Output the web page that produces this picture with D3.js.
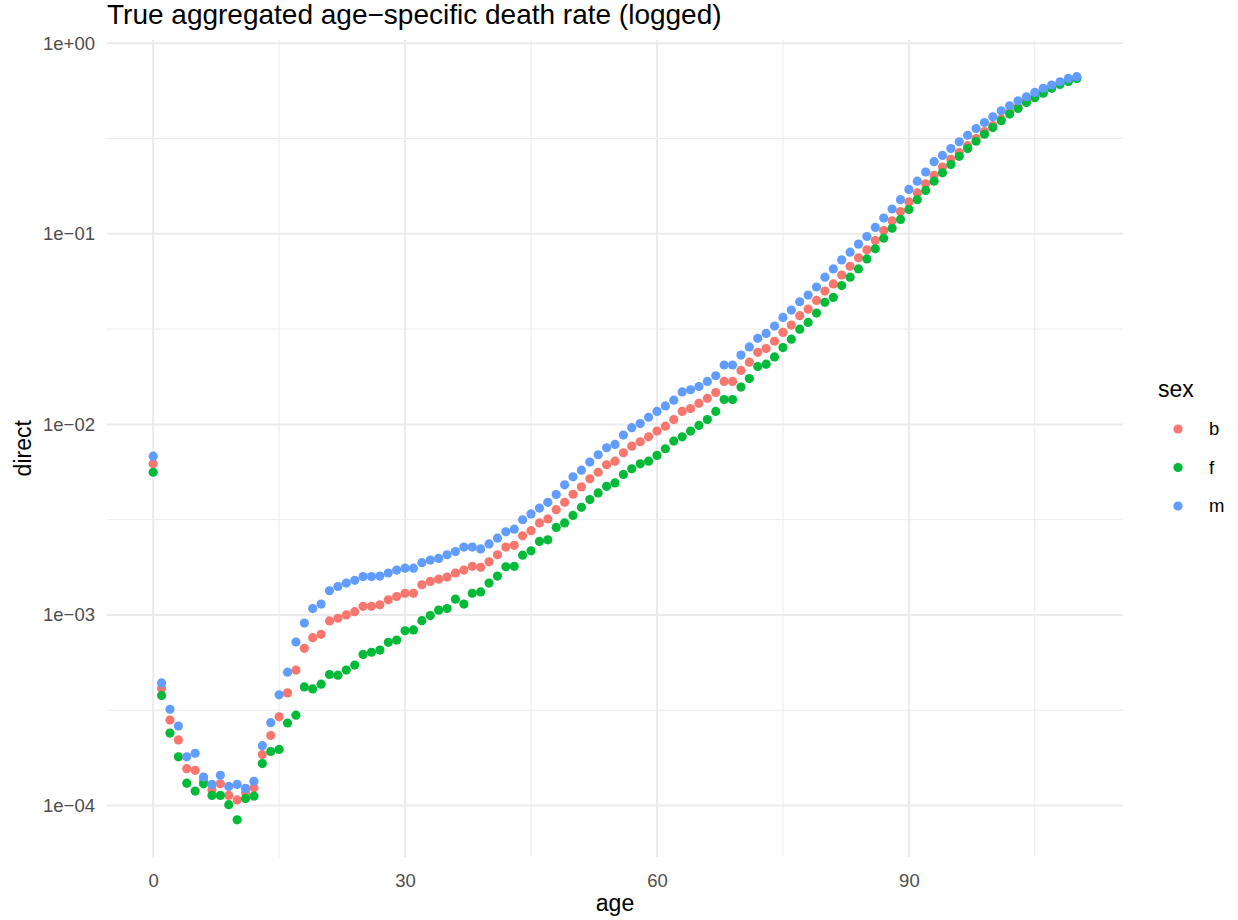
<!DOCTYPE html>
<html>
<head>
<meta charset="utf-8">
<script src="https://cdn.jsdelivr.net/npm/d3@7"></script>
<style>
  body { margin: 0; background: #fff; }
  svg text { font-family: "Liberation Sans", Arial, sans-serif; }
</style>
</head>
<body>
<div id="chart"></div>
<script>

/** data */
var ages = [0,1,2,3,4,5,6,7,8,9,10,11,12,13,14,15,16,17,18,19,20,21,22,23,24,25,26,27,28,29,
  30,31,32,33,34,35,36,37,38,39,40,41,42,43,44,45,46,47,48,49,50,51,52,53,54,55,56,57,58,59,
  60,61,62,63,64,65,66,67,68,69,70,71,72,73,74,75,76,77,78,79,80,81,82,83,84,85,86,87,88,89,
  90,91,92,93,94,95,96,97,98,99,100,101,102,103,104,105,106,107,108,109,110];

var rateB = [6.21e-3, 4.11e-4, 2.81e-4, 2.21e-4, 1.56e-4, 1.53e-4, 1.35e-4, 1.21e-4, 1.30e-4, 1.13e-4,
  1.07e-4, 1.17e-4, 1.24e-4, 1.85e-4, 2.33e-4, 2.92e-4, 3.90e-4, 5.14e-4, 6.68e-4, 7.60e-4,
  7.91e-4, 9.30e-4, 9.61e-4, 1.00e-3, 1.04e-3, 1.11e-3, 1.11e-3, 1.13e-3, 1.20e-3, 1.25e-3,
  1.30e-3, 1.30e-3, 1.44e-3, 1.50e-3, 1.54e-3, 1.58e-3, 1.66e-3, 1.72e-3, 1.80e-3, 1.78e-3,
  1.90e-3, 2.07e-3, 2.27e-3, 2.32e-3, 2.60e-3, 2.77e-3, 3.04e-3, 3.19e-3, 3.57e-3, 3.90e-3,
  4.30e-3, 4.70e-3, 5.18e-3, 5.61e-3, 6.14e-3, 6.41e-3, 7.10e-3, 7.69e-3, 8.11e-3, 8.61e-3,
  9.22e-3, 9.79e-3, 1.06e-2, 1.17e-2, 1.21e-2, 1.29e-2, 1.37e-2, 1.47e-2, 1.68e-2, 1.68e-2,
  1.92e-2, 2.12e-2, 2.39e-2, 2.50e-2, 2.73e-2, 3.04e-2, 3.32e-2, 3.72e-2, 4.03e-2, 4.47e-2,
  5.01e-2, 5.46e-2, 6.08e-2, 6.76e-2, 7.48e-2, 8.24e-2, 9.22e-2, 1.04e-1, 1.17e-1, 1.31e-1,
  1.47e-1, 1.64e-1, 1.83e-1, 2.03e-1, 2.24e-1, 2.46e-1, 2.67e-1, 2.90e-1, 3.16e-1, 3.44e-1,
  3.70e-1, 4.01e-1, 4.33e-1, 4.63e-1, 4.98e-1, 5.26e-1, 5.56e-1, 5.87e-1, 6.16e-1, 6.38e-1,
  6.58e-1];

var rateF = [5.61e-3, 3.78e-4, 2.40e-4, 1.80e-4, 1.31e-4, 1.19e-4, 1.30e-4, 1.13e-4, 1.13e-4, 1.01e-4,
  8.41e-5, 1.09e-4, 1.12e-4, 1.66e-4, 1.92e-4, 1.97e-4, 2.71e-4, 2.98e-4, 4.19e-4, 4.09e-4,
  4.33e-4, 4.87e-4, 4.83e-4, 5.14e-4, 5.46e-4, 6.21e-4, 6.37e-4, 6.54e-4, 7.18e-4, 7.38e-4,
  8.26e-4, 8.34e-4, 9.33e-4, 9.92e-4, 1.06e-3, 1.08e-3, 1.21e-3, 1.14e-3, 1.30e-3, 1.32e-3,
  1.47e-3, 1.60e-3, 1.79e-3, 1.80e-3, 2.06e-3, 2.17e-3, 2.43e-3, 2.48e-3, 2.88e-3, 3.04e-3,
  3.33e-3, 3.67e-3, 4.03e-3, 4.37e-3, 4.73e-3, 4.93e-3, 5.46e-3, 5.85e-3, 6.21e-3, 6.41e-3,
  6.87e-3, 7.45e-3, 8.17e-3, 8.61e-3, 9.22e-3, 9.88e-3, 1.06e-2, 1.17e-2, 1.35e-2, 1.35e-2,
  1.57e-2, 1.74e-2, 2.01e-2, 2.07e-2, 2.26e-2, 2.53e-2, 2.80e-2, 3.16e-2, 3.43e-2, 3.84e-2,
  4.37e-2, 4.64e-2, 5.35e-2, 5.92e-2, 6.54e-2, 7.38e-2, 8.34e-2, 9.49e-2, 1.07e-1, 1.19e-1,
  1.34e-1, 1.51e-1, 1.69e-1, 1.89e-1, 2.09e-1, 2.31e-1, 2.55e-1, 2.80e-1, 3.06e-1, 3.33e-1,
  3.61e-1, 3.92e-1, 4.25e-1, 4.55e-1, 4.89e-1, 5.18e-1, 5.47e-1, 5.80e-1, 6.08e-1, 6.31e-1,
  6.54e-1];

var rateM = [6.81e-3, 4.40e-4, 3.20e-4, 2.61e-4, 1.80e-4, 1.88e-4, 1.41e-4, 1.29e-4, 1.44e-4, 1.26e-4,
  1.29e-4, 1.23e-4, 1.34e-4, 2.06e-4, 2.72e-4, 3.81e-4, 5.01e-4, 7.21e-4, 9.07e-4, 1.08e-3,
  1.14e-3, 1.34e-3, 1.41e-3, 1.47e-3, 1.52e-3, 1.59e-3, 1.59e-3, 1.60e-3, 1.66e-3, 1.72e-3,
  1.76e-3, 1.76e-3, 1.88e-3, 1.94e-3, 1.98e-3, 2.07e-3, 2.15e-3, 2.27e-3, 2.27e-3, 2.22e-3,
  2.36e-3, 2.53e-3, 2.73e-3, 2.82e-3, 3.16e-3, 3.39e-3, 3.64e-3, 3.90e-3, 4.28e-3, 4.82e-3,
  5.31e-3, 5.75e-3, 6.34e-3, 6.93e-3, 7.54e-3, 7.85e-3, 8.79e-3, 9.61e-3, 1.01e-2, 1.09e-2,
  1.17e-2, 1.25e-2, 1.34e-2, 1.48e-2, 1.52e-2, 1.58e-2, 1.68e-2, 1.80e-2, 2.05e-2, 2.05e-2,
  2.31e-2, 2.55e-2, 2.83e-2, 3.00e-2, 3.28e-2, 3.64e-2, 3.98e-2, 4.40e-2, 4.77e-2, 5.26e-2,
  5.92e-2, 6.54e-2, 7.30e-2, 8.01e-2, 8.83e-2, 9.68e-2, 1.08e-1, 1.21e-1, 1.35e-1, 1.51e-1,
  1.71e-1, 1.89e-1, 2.11e-1, 2.39e-1, 2.58e-1, 2.80e-1, 3.04e-1, 3.29e-1, 3.57e-1, 3.84e-1,
  4.11e-1, 4.42e-1, 4.70e-1, 4.99e-1, 5.24e-1, 5.52e-1, 5.80e-1, 6.04e-1, 6.28e-1, 6.54e-1,
  6.68e-1];

var sexes = ["b", "f", "m"];
var sexColors = ["#F8766D", "#00BA38", "#619CFF"];

var xTicks = [0, 30, 60, 90];
var xMinor = [15, 45, 75, 105];
var yTicks = [1, 1e-1, 1e-2, 1e-3, 1e-4];
var yTickLabels = ["1e+00", "1e\u221201", "1e\u221202", "1e\u221203", "1e\u221204"];
var yMinor = [Math.pow(10, -0.5), Math.pow(10, -1.5), Math.pow(10, -2.5), Math.pow(10, -3.5)];

const width = 1238, height = 920;
var panel = {left: 107, right: 1123, top: 39.5, bottom: 857};
const pointR = 4.6;

/** long table: one row per age and sex */
var rates = [rateB, rateF, rateM];
var points = [];
sexes.forEach(function(s, k) {
  ages.forEach(function(a, i) {
    points.push({age: a, sex: s, direct: rates[k][i]});
  });
});

var svg = d3.select("#chart")
    .append("svg")
    .attr("width", width)
    .attr("height", height);

// scales with ggplot-like 5% expansion
var xExt = d3.extent(points, p => p.age);
var xPad = (xExt[1] - xExt[0]) * 0.05;
var xScale = d3.scaleLinear()
    .domain([xExt[0] - xPad, xExt[1] + xPad])
    .range([panel.left, panel.right]);

var yExt = d3.extent(points, p => Math.log10(p.direct));
var yPad = (yExt[1] - yExt[0]) * 0.05;
var yScale = d3.scaleLog()
    .domain([Math.pow(10, yExt[0] - yPad), Math.pow(10, yExt[1] + yPad)])
    .range([panel.bottom, panel.top]);

var color = d3.scaleOrdinal().domain(sexes).range(sexColors);

/** grid lines */
var grid = svg.append("g");
grid.selectAll(".ymin").data(yMinor).enter().append("line")
  .attr("x1", panel.left).attr("x2", panel.right)
  .attr("y1", d => yScale(d)).attr("y2", d => yScale(d))
  .style("stroke", "#EBEBEB").style("stroke-width", 1);
grid.selectAll(".xmin").data(xMinor).enter().append("line")
  .attr("x1", d => xScale(d)).attr("x2", d => xScale(d))
  .attr("y1", panel.top).attr("y2", panel.bottom)
  .style("stroke", "#EBEBEB").style("stroke-width", 1);
grid.selectAll(".ymaj").data(yTicks).enter().append("line")
  .attr("x1", panel.left).attr("x2", panel.right)
  .attr("y1", d => yScale(d)).attr("y2", d => yScale(d))
  .style("stroke", "#EBEBEB").style("stroke-width", 2);
grid.selectAll(".xmaj").data(xTicks).enter().append("line")
  .attr("x1", d => xScale(d)).attr("x2", d => xScale(d))
  .attr("y1", panel.top).attr("y2", panel.bottom)
  .style("stroke", "#EBEBEB").style("stroke-width", 2);

/** axes */
var xAxis = d3.axisBottom(xScale)
    .tickValues(xTicks)
    .tickSize(0)
    .tickPadding(17);
var yAxis = d3.axisLeft(yScale)
    .tickValues(yTicks)
    .tickFormat((d, i) => yTickLabels[i])
    .tickSize(0)
    .tickPadding(12);

svg.append("g")
  .attr("transform", "translate(0," + panel.bottom + ")")
  .call(xAxis)
  .call(g => g.select(".domain").remove())
  .selectAll("text")
  .style("font-size", "18.5px")
  .style("fill", "#4D4D4D");

svg.append("g")
  .attr("transform", "translate(" + panel.left + ",0)")
  .call(yAxis)
  .call(g => g.select(".domain").remove())
  .selectAll("text")
  .style("font-size", "18.5px")
  .style("fill", "#4D4D4D");

/** points: b first, then f, then m on top */
svg.append("g")
  .selectAll("circle")
  .data(points)
  .enter()
  .append("circle")
  .attr("cx", p => xScale(p.age))
  .attr("cy", p => yScale(p.direct))
  .attr("r", pointR)
  .style("fill", p => color(p.sex));

/** titles */
svg.append("text")
  .attr("x", panel.left)
  .attr("y", 24)
  .style("font-size", "28px")
  .style("fill", "#000")
  .text("True aggregated age\u2212specific death rate (logged)");

svg.append("text")
  .attr("x", (panel.left + panel.right) / 2)
  .attr("y", 911)
  .style("text-anchor", "middle")
  .style("font-size", "23px")
  .style("fill", "#000")
  .text("age");

svg.append("text")
  .attr("transform", "translate(31," + ((panel.top + panel.bottom) / 2) + ") rotate(-90)")
  .style("text-anchor", "middle")
  .style("font-size", "23px")
  .style("fill", "#000")
  .text("direct");

/** legend */
var legend = svg.append("g").attr("transform", "translate(1158,0)");
legend.append("text")
  .attr("x", 0)
  .attr("y", 397)
  .style("font-size", "23px")
  .style("fill", "#000")
  .text("sex");

var keys = legend.selectAll(".key")
    .data(sexes)
    .enter()
    .append("g")
    .attr("transform", (d, i) => "translate(0," + (429 + i * 38.5) + ")");
keys.append("circle")
  .attr("cx", 20)
  .attr("cy", 0)
  .attr("r", pointR)
  .style("fill", d => color(d));
keys.append("text")
  .attr("x", 51)
  .attr("y", 0)
  .attr("dy", "0.35em")
  .style("font-size", "18.5px")
  .style("fill", "#000")
  .text(d => d);

</script>
</body>
</html>
